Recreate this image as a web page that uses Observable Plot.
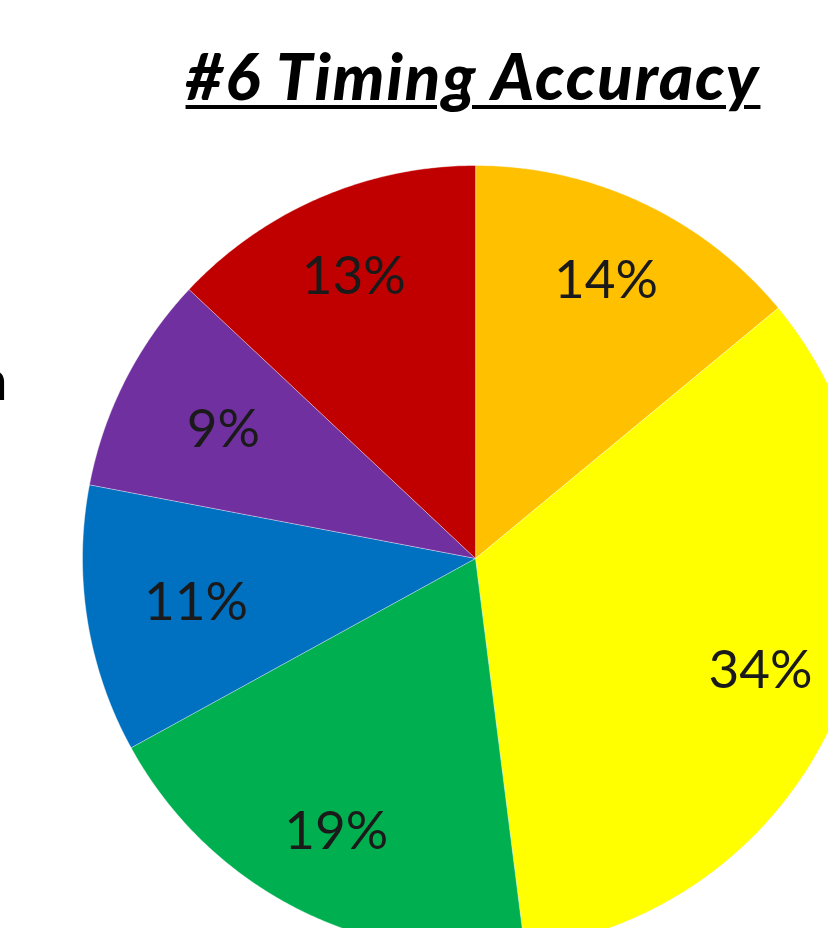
<!DOCTYPE html>
<html>
<head>
<meta charset="utf-8">
<script src="https://cdn.jsdelivr.net/npm/d3@7"></script>
<script src="https://cdn.jsdelivr.net/npm/@observablehq/plot@0.6"></script>
<style>
  html, body { margin: 0; padding: 0; background: white; overflow: hidden; width: 828px; height: 928px; }
  #header { position: relative; height: 130px; width: 828px; }
  #title { position: absolute; left: 0; width: 946px; top: 43px; text-align: center;
    font-family: Lato, "Open Sans", sans-serif; font-weight: 900; font-style: italic; font-size: 65px;
    letter-spacing: 2px;
    text-decoration: underline; text-decoration-thickness: 4px; text-underline-offset: 5px; color: #000; line-height: 1; white-space: nowrap; }
  #cut { position: absolute; left: -24px; top: 350px; font-family: Lato, sans-serif; font-size: 57px; color: #000; line-height: 1; }
  #chart { position: relative; }
</style>
</head>
<body>
<div id="header"><div id="title">#6 Timing Accuracy</div></div>
<div id="cut">n</div>
<div id="chart"></div>
<script>
// Data (clockwise from 12 o'clock)
const categories = ["Slice 1", "Slice 2", "Slice 3", "Slice 4", "Slice 5", "Slice 6"];
const shares = [14, 34, 19, 11, 9, 13];
const labels = ["14%", "34%", "19%", "11%", "9%", "13%"];
const colors = ["#FFC000", "#FFFF00", "#00B050", "#0070C0", "#7030A0", "#C00000"];

const total = d3.sum(shares);
const W = 828, H = 798, R = 393, cx = 475, cy = 428;

// build slice outlines in data units (radius 1) from the shares
const pts = [];
const lab = [];
let acc = 0;
shares.forEach((s, i) => {
  const a0 = acc / total * 2 * Math.PI;
  acc += s;
  const a1 = acc / total * 2 * Math.PI;
  pts.push({cat: categories[i], x: 0, y: 0});
  const n = Math.max(2, Math.ceil((a1 - a0) / (Math.PI / 360)));
  for (let k = 0; k <= n; k++) {
    const a = a0 + (a1 - a0) * k / n;
    pts.push({cat: categories[i], x: Math.sin(a), y: Math.cos(a)});
  }
  const am = (a0 + a1) / 2;
  const lr = s / total >= 0.12 ? 0.78 : 0.72;
  lab.push({text: labels[i], x: lr * Math.sin(am), y: lr * Math.cos(am)});
});

const plot = Plot.plot({
  width: W, height: H,
  margin: 0,
  style: {background: "transparent", maxWidth: "none", overflow: "hidden"},
  x: {domain: [-cx / R, (W - cx) / R], axis: null},
  y: {domain: [-(H - cy) / R, cy / R], axis: null},
  color: {type: "ordinal", domain: categories, range: colors},
  marks: [
    Plot.line(pts, {x: "x", y: "y", z: "cat", fill: "cat", stroke: "white", strokeWidth: 0.8, strokeOpacity: 0.5, curve: "linear-closed", clip: true}),
    Plot.text(lab, {x: "x", y: "y", text: "text", fontSize: 53, fontFamily: "Lato, sans-serif", fill: "#1a1a1a"})
  ]
});
document.getElementById("chart").appendChild(plot);
</script>
</body>
</html>
